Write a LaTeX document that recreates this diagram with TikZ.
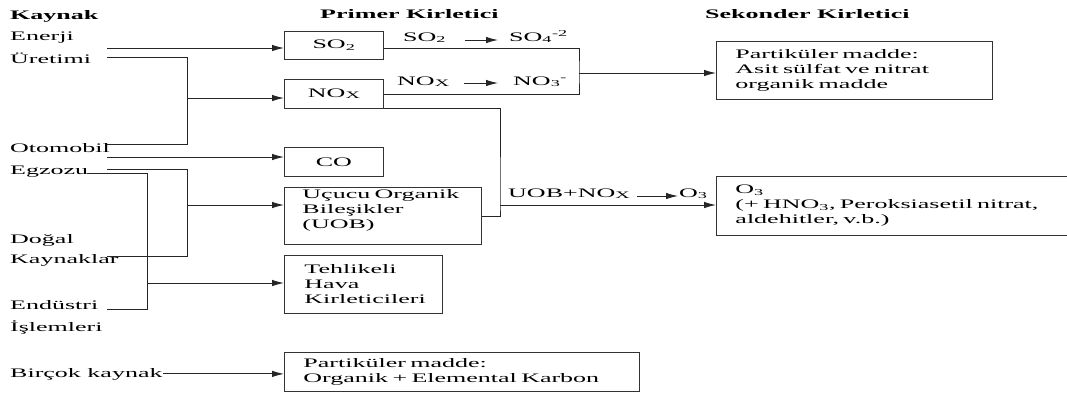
\documentclass[tikz,border=0pt]{standalone}
\usepackage{fontspec}
\setmainfont{Liberation Serif}[FakeStretch=2]
\usetikzlibrary{arrows.meta}
\hyphenpenalty=10000

\newcommand\noks{NO\raisebox{-1pt}{\fontsize{10}{10}\selectfont X}}

\tikzset{
  baslik/.style={anchor=base west, inner sep=0pt, font=\fontsize{13}{15}\selectfont\bfseries},
  kaynak/.style={anchor=base west, inner sep=0pt},
  etiket/.style={anchor=base west, inner sep=0pt},
  kutu/.style={draw=black!80, line width=0.9pt, anchor=north west, inner ysep=0pt, align=left},
  cizgi/.style={draw=black!85, line width=0.9pt},
  okcizgi/.style={cizgi, -{Latex[length=12pt,width=6.5pt]}},
}

\begin{document}
\begin{tikzpicture}[x=1pt, y=-1pt, font=\fontsize{13}{15}\selectfont]
  \useasboundingbox (0,0) rectangle (1067,392);
  \clip (0,0) rectangle (1067,392);

  \node[baslik] (kaynakb) at (10,19) {Kaynak};
  \node[baslik] (primer) at (320,18) {Primer Kirletici};
  \node[baslik] (sekonder) at (705,18) {Sekonder Kirletici};

  \node[kaynak] (enerji) at (10,40) {Enerji};
  \node[kaynak] (uretim) at (10,63) {Üretimi};
  \node[kaynak] (otomobil) at (10,152) {Otomobil};
  \node[kaynak] (egzoz) at (10,174) {Egzozu};
  \node[kaynak] (dogal) at (10,243) {Doğal};
  \node[kaynak] (kaynaklar) at (10,263) {Kaynaklar};
  \node[kaynak] (endustri) at (10,309) {Endüstri};
  \node[kaynak] (islem) at (10,331) {İşlemleri};
  \node[kaynak] (bircok) at (10,377) {Birçok kaynak};

  \node[kutu, minimum width=99pt, minimum height=28pt] (so2) at (284,31) {SO\textsubscript{2}};
  \node[kutu, minimum width=99pt, minimum height=29pt] (nox) at (284,79) {\noks};
  \node[kutu, minimum width=99pt, minimum height=29pt] (co) at (284,147) {CO};
  \node[kutu, inner xsep=18pt, text width=161pt, minimum height=57pt] (uob) at (284,187)
    {Uçucu~Organik\\Bileşikler\\(UOB)\vspace*{12pt}};
  \node[kutu, inner xsep=20pt, text width=118pt, minimum height=58pt] (tehlike) at (284,255)
    {Tehlikeli\\Hava\\Kirleticileri};
  \node[kutu, inner xsep=19pt, text width=317pt, minimum height=39pt] (partik2) at (284,352)
    {Partiküler~madde:\\Organik~+~Elemental~Karbon};
  \node[kutu, inner xsep=19pt, text width=238pt, minimum height=58pt] (partik1) at (716,41)
    {Partiküler~madde:\\Asit~sülfat~ve~nitrat\\organik~madde};
  \node[kutu, inner xsep=19pt, text width=400pt, minimum height=59pt] (o3kutu) at (716,176)
    {O\textsubscript{3}\\(+~HNO\textsubscript{3},~Peroksiasetil~nitrat,\\aldehitler,~v.b.)};

  \node[etiket] (so2a) at (403,41) {SO\textsubscript{2}};
  \node[etiket] (so4) at (509,41) {SO\textsubscript{4}\textsuperscript{-2}};
  \node[etiket] (noxa) at (397,85) {\noks};
  \node[etiket] (no3) at (513,85) {NO\textsubscript{3}\textsuperscript{-}};
  \node[etiket] (uobnox) at (508,197) {UOB+\noks};
  \node[etiket] (o3a) at (679,197) {O\textsubscript{3}};

  \coordinate (k1) at (107,48);
  \coordinate (k2) at (107,57);
  \coordinate (k3) at (107,144);
  \coordinate (d1) at (187,144);
  \coordinate (j1) at (187,98);
  \coordinate (k4) at (107,157);
  \coordinate (k5) at (107,169);
  \coordinate (k6) at (107,256);
  \coordinate (d2) at (187,256);
  \coordinate (j2) at (187,205);
  \coordinate (k7) at (87,173);
  \coordinate (k8) at (107,309);
  \coordinate (d3) at (147,309);
  \coordinate (j3) at (147,283);
  \coordinate (b1) at (579,73);
  \coordinate (u1) at (500,205);

  \draw[okcizgi] (k1) -- (k1 -| so2.west);
  \draw[cizgi] (k2) -| (d1) -- (k3);
  \draw[okcizgi] (j1) -- (j1 -| nox.west);
  \draw[okcizgi] (k4) -- (k4 -| co.west);
  \draw[cizgi] (k5) -| (d2) -- (k6);
  \draw[okcizgi] (j2) -- (j2 -| uob.west);
  \draw[cizgi] (k7) -| (d3) -- (k8);
  \draw[okcizgi] (j3) -- (j3 -| tehlike.west);
  \draw[okcizgi] (bircok.east) -- (bircok.east -| partik2.west);

  \draw[cizgi] ([yshift=-3pt]so2.east) -| (b1) |- (nox.east);
  \draw[okcizgi] (b1) -- (b1 -| partik1.west);
  \draw[cizgi] (nox.south east) -| (u1) |- (uob.east);
  \draw[okcizgi] (u1) -- (u1 -| o3kutu.west);

  \draw[okcizgi] ([xshift=19pt,yshift=1pt]so2a.base east) -- ([xshift=-11pt,yshift=1pt]so4.base west);
  \draw[okcizgi] ([xshift=15pt,yshift=2pt]noxa.base east) -- ([xshift=-15pt,yshift=2pt]no3.base west);
  \draw[okcizgi] ([xshift=7pt,yshift=1pt]uobnox.base east) -- ([xshift=-1pt,yshift=1pt]o3a.base west);
\end{tikzpicture}
\end{document}
